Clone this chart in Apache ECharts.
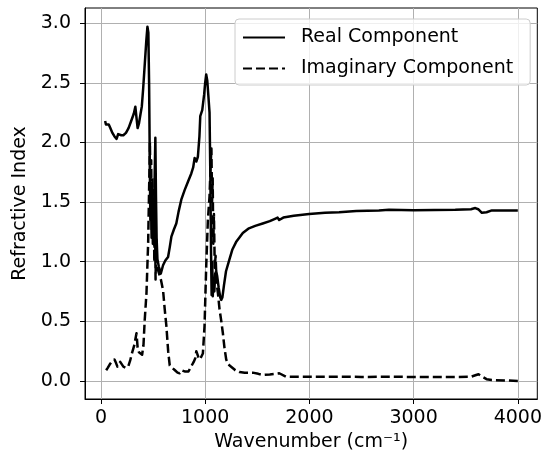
<!DOCTYPE html>
<html>
<head>
<meta charset="utf-8">
<script src="https://cdn.jsdelivr.net/npm/echarts@6/dist/echarts.min.js"></script>
<style>html,body{margin:0;padding:0;background:#fff;}#c{width:545px;height:460px;}</style>
</head>
<body>
<div id="c"></div>
<script>
var realX = [40,48,60,75,90,110,130,150,165,180,195,215,240,265,290,315,330,342,352,365,380,392,405,420,435,446,455,462,468,474,480,486,492,498,504,510,516,522,528,534,542,555,574,596,618,644,660,676,700,723,745,771,803,835,867,885,899,915,930,945,953,972,990,1000,1010,1020,1030,1042,1050,1056,1062,1068,1073,1080,1088,1096,1106,1115,1130,1145,1154,1165,1180,1200,1233,1260,1300,1361,1420,1480,1552,1620,1670,1695,1710,1750,1850,1998,2150,2285,2450,2667,2763,3000,3200,3400,3550,3592,3620,3655,3700,3751,3900,4000];
var realY = [2.18,2.15,2.16,2.15,2.12,2.08,2.05,2.03,2.07,2.08,2.06,2.06,2.08,2.12,2.18,2.24,2.30,2.20,2.12,2.16,2.24,2.30,2.45,2.65,2.85,2.97,2.92,2.5,1.9,1.35,1.6,1.2,1.5,1.15,1.45,1.25,1.75,2.04,1.55,1.2,1.02,0.96,0.90,0.97,1.01,1.04,1.12,1.21,1.27,1.32,1.42,1.52,1.60,1.67,1.74,1.79,1.87,1.84,1.88,2.05,2.22,2.27,2.40,2.50,2.57,2.52,2.40,2.25,1.70,1.10,0.72,1.0,0.71,0.85,0.75,0.90,0.92,0.88,0.78,0.70,0.68,0.70,0.80,0.92,1.02,1.10,1.17,1.24,1.28,1.30,1.32,1.34,1.36,1.37,1.35,1.37,1.385,1.40,1.41,1.415,1.425,1.43,1.435,1.432,1.433,1.435,1.44,1.45,1.44,1.41,1.415,1.43,1.43,1.43];
var imagX = [50,65,85,110,130,145,158,172,185,198,215,240,261,280,300,320,341,352,365,380,395,408,420,437,453,462,470,476,482,488,494,500,506,512,518,524,530,538,548,575,596,612,628,645,660,685,710,735,755,775,787,803,819,840,865,890,905,915,935,950,963,978,994,1010,1026,1042,1052,1060,1066,1072,1078,1084,1092,1100,1110,1122,1138,1155,1170,1185,1202,1220,1249,1290,1329,1380,1456,1510,1552,1620,1670,1711,1775,1900,2100,2285,2500,2800,3000,3300,3550,3600,3623,3660,3700,3750,3900,4000];
var imagY = [0.09,0.11,0.14,0.17,0.18,0.15,0.12,0.14,0.16,0.15,0.12,0.11,0.12,0.17,0.24,0.30,0.40,0.28,0.24,0.23,0.22,0.30,0.51,0.74,1.16,1.6,2.0,1.4,1.85,1.25,1.7,1.3,1.6,1.0,1.45,0.85,1.2,0.95,0.93,0.85,0.76,0.60,0.46,0.25,0.13,0.11,0.09,0.07,0.065,0.09,0.106,0.08,0.065,0.08,0.12,0.16,0.19,0.25,0.20,0.18,0.19,0.23,0.46,0.96,1.35,1.55,1.8,1.95,1.5,1.7,1.15,1.4,0.95,1.05,0.82,0.74,0.60,0.50,0.40,0.28,0.18,0.14,0.12,0.09,0.075,0.07,0.07,0.06,0.05,0.055,0.06,0.065,0.036,0.035,0.035,0.036,0.034,0.035,0.034,0.033,0.035,0.05,0.056,0.035,0.015,0.008,0.004,0.0];
var xTicks = [0,1000,2000,3000,4000];
var yTicks = [0,0.5,1.0,1.5,2.0,2.5,3.0];
var seriesNames = ['Real Component','Imaginary Component'];

function zip(a,b){var o=[];for(var i=0;i<a.length;i++)o.push([a[i],b[i]]);return o;}
var FONT = 'DejaVu Sans';
var LW = 2.5;
var chart = echarts.init(document.getElementById('c'), null, {renderer:'canvas'});
chart.setOption({
  animation:false,
  backgroundColor:'#fff',
  grid:{left:85,right:5,top:8,bottom:61,show:true,borderColor:'#000',borderWidth:1,backgroundColor:'transparent'},
  legend:{
    orient:'vertical',left:235,top:19,
    padding:[9,17,7,7],itemGap:12,itemWidth:42,itemHeight:14,
    backgroundColor:'rgba(255,255,255,0.8)',borderColor:'#cccccc',borderWidth:1,borderRadius:4,
    itemStyle:{opacity:0},
    textStyle:{fontFamily:FONT,fontSize:19,color:'#000',padding:[0,0,0,11]},
    data:seriesNames
  },
  xAxis:{
    type:'value',min:-153,max:4187,
    name:'Wavenumber (cm\u207B\u00B9)',nameLocation:'middle',nameGap:28,
    nameTextStyle:{fontFamily:FONT,fontSize:19,color:'#000'},
    axisLine:{show:true,onZero:false,lineStyle:{color:'#000',width:1}},
    axisTick:{show:true,length:5,lineStyle:{color:'#000',width:1},customValues:xTicks},
    axisLabel:{fontFamily:FONT,fontSize:19,color:'#000',margin:10,customValues:xTicks,formatter:function(v){return String(Math.round(v));}},
    splitLine:{show:true,lineStyle:{color:'#b0b0b0',width:1}}
  },
  yAxis:{
    type:'value',min:-0.151,max:3.127,
    name:'Refractive Index',nameLocation:'middle',nameGap:55,
    nameTextStyle:{fontFamily:FONT,fontSize:19,color:'#000'},
    axisLine:{show:true,onZero:false,lineStyle:{color:'#000',width:1}},
    axisTick:{show:true,length:5,lineStyle:{color:'#000',width:1},customValues:yTicks},
    axisLabel:{fontFamily:FONT,fontSize:19,color:'#000',margin:14,customValues:yTicks,formatter:function(v){return v.toFixed(1);}},
    splitLine:{show:true,lineStyle:{color:'#b0b0b0',width:1}}
  },
  series:[
    {name:seriesNames[0],type:'line',data:zip(realX,realY),showSymbol:false,symbol:'none',
     lineStyle:{color:'#000',width:LW,join:'round'},itemStyle:{color:'#000'}},
    {name:seriesNames[1],type:'line',data:zip(imagX,imagY),showSymbol:false,symbol:'none',
     lineStyle:{color:'#000',width:LW,type:[9,4],join:'round',cap:'butt'},itemStyle:{color:'#000'}}
  ]
});
</script>
</body>
</html>
